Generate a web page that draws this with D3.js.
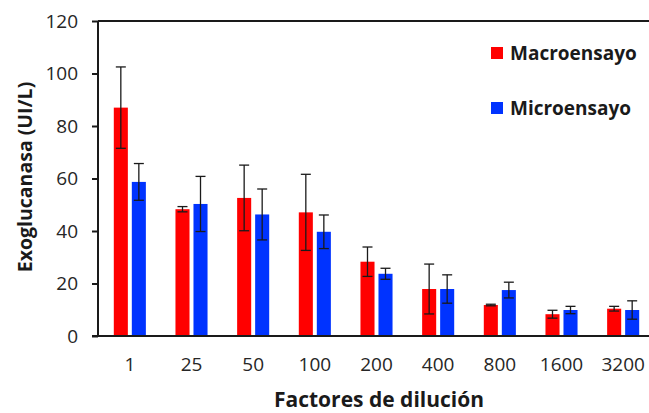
<!DOCTYPE html>
<html>
<head>
<meta charset="utf-8">
<script src="https://cdn.jsdelivr.net/npm/d3@7"></script>
<style>
  html, body { margin: 0; padding: 0; background: #fff; }
  svg { display: block; font-family: "Open Sans", sans-serif; }
</style>
</head>
<body>
<svg id="chart" width="649" height="413"></svg>
<script>
// Dilution factors on the x axis
const categories = ["1", "25", "50", "100", "200", "400", "800", "1600", "3200"];
const seriesNames = ["Macroensayo", "Microensayo"];
const seriesColors = ["#ff0000", "#0033ff"];

// Mean exoglucanase activity (UI/L) and standard deviations
const macroValues = [87, 48.3, 52.6, 47.1, 28.3, 17.9, 11.8, 8.3, 10.4];
const macroErrors = [15.5, 1, 12.5, 14.5, 5.6, 9.5, 0.3, 1.5, 0.9];
const microValues = [58.7, 50.3, 46.3, 39.7, 23.7, 17.9, 17.5, 9.9, 9.9];
const microErrors = [7, 10.5, 9.7, 6.4, 2.1, 5.4, 3, 1.4, 3.5];

const yTicks = [0, 20, 40, 60, 80, 100, 120];

const svg = d3.select("#chart");
const plotLeft = 98, plotTop = 21, plotBottom = 336, plotRight = 649;

const x0 = d3.scaleBand().domain(categories).range([99, 654])
  .paddingInner(0.48).paddingOuter(0.24);
const x1 = d3.scaleBand().domain(seriesNames).range([0, x0.bandwidth()])
  .paddingInner(0.22);
const y = d3.scaleLinear().domain([0, 120]).range([plotBottom, plotTop]);

const rows = categories.map((c, i) => ({
  cat: c,
  items: [
    { name: seriesNames[0], value: macroValues[i], err: macroErrors[i], color: seriesColors[0] },
    { name: seriesNames[1], value: microValues[i], err: microErrors[i], color: seriesColors[1] }
  ]
}));

// Bars
const groups = svg.append("g").selectAll("g").data(rows).join("g")
  .attr("transform", d => `translate(${x0(d.cat)},0)`);

groups.selectAll("rect").data(d => d.items).join("rect")
  .attr("x", d => x1(d.name))
  .attr("y", d => y(d.value))
  .attr("width", x1.bandwidth())
  .attr("height", d => y(0) - y(d.value))
  .attr("fill", d => d.color);

// Error bars
const capHalf = 5;
const cx = d => x1(d.name) + x1.bandwidth() / 2;
const eb = groups.selectAll("g.err").data(d => d.items).join("g").attr("class", "err")
  .attr("stroke", "#1a1a1a").attr("stroke-width", 1.3);
eb.append("line")
  .attr("x1", cx).attr("x2", cx)
  .attr("y1", d => y(d.value + d.err))
  .attr("y2", d => y(d.value - d.err));
eb.append("line")
  .attr("x1", d => cx(d) - capHalf).attr("x2", d => cx(d) + capHalf)
  .attr("y1", d => y(d.value + d.err)).attr("y2", d => y(d.value + d.err));
eb.append("line")
  .attr("x1", d => cx(d) - capHalf).attr("x2", d => cx(d) + capHalf)
  .attr("y1", d => y(d.value - d.err)).attr("y2", d => y(d.value - d.err));

// Y axis
const yAxis = svg.append("g").attr("transform", `translate(${plotLeft},0)`)
  .call(d3.axisLeft(y).tickValues(yTicks).tickSize(6).tickPadding(14));
yAxis.select(".domain").attr("stroke", "#1a1a1a").attr("stroke-width", 2)
  .attr("d", `M0,${plotTop}V${plotBottom}`);
yAxis.selectAll(".tick line").attr("stroke", "#1a1a1a").attr("stroke-width", 2);
yAxis.selectAll(".tick text").attr("font-size", 19).attr("fill", "#262626")
  .attr("font-family", "Open Sans, sans-serif");

// X axis
const xAxis = svg.append("g").attr("transform", `translate(0,${plotBottom})`)
  .call(d3.axisBottom(x0).tickSize(0).tickPadding(22));
xAxis.select(".domain").attr("stroke", "#1a1a1a").attr("stroke-width", 2)
  .attr("d", `M${plotLeft - 6},0H${plotRight}`);
xAxis.selectAll(".tick text").attr("font-size", 19).attr("fill", "#262626")
  .attr("font-family", "Open Sans, sans-serif");

// Top frame line
svg.append("line").attr("x1", plotLeft).attr("x2", plotRight)
  .attr("y1", plotTop).attr("y2", plotTop)
  .attr("stroke", "#1a1a1a").attr("stroke-width", 2);

// Axis titles
svg.append("text").attr("transform", "translate(32,177) rotate(-90)")
  .attr("text-anchor", "middle").attr("font-size", 19.5).attr("font-weight", "bold")
  .attr("fill", "#1a1a1a").text("Exoglucanasa (UI/L)");
svg.append("text").attr("x", 379).attr("y", 406.5)
  .attr("text-anchor", "middle").attr("font-size", 21).attr("font-weight", "bold")
  .attr("fill", "#1a1a1a").text("Factores de dilución");

// Legend
const legend = svg.append("g").selectAll("g").data(seriesNames).join("g")
  .attr("transform", (d, i) => `translate(491,${47 + i * 55})`);
legend.append("rect").attr("width", 12).attr("height", 12)
  .attr("fill", (d, i) => seriesColors[i]);
legend.append("text").attr("x", 19).attr("y", 12.5)
  .attr("font-size", 19).attr("font-weight", "bold").attr("fill", "#1a1a1a")
  .text(d => d);
</script>
</body>
</html>
